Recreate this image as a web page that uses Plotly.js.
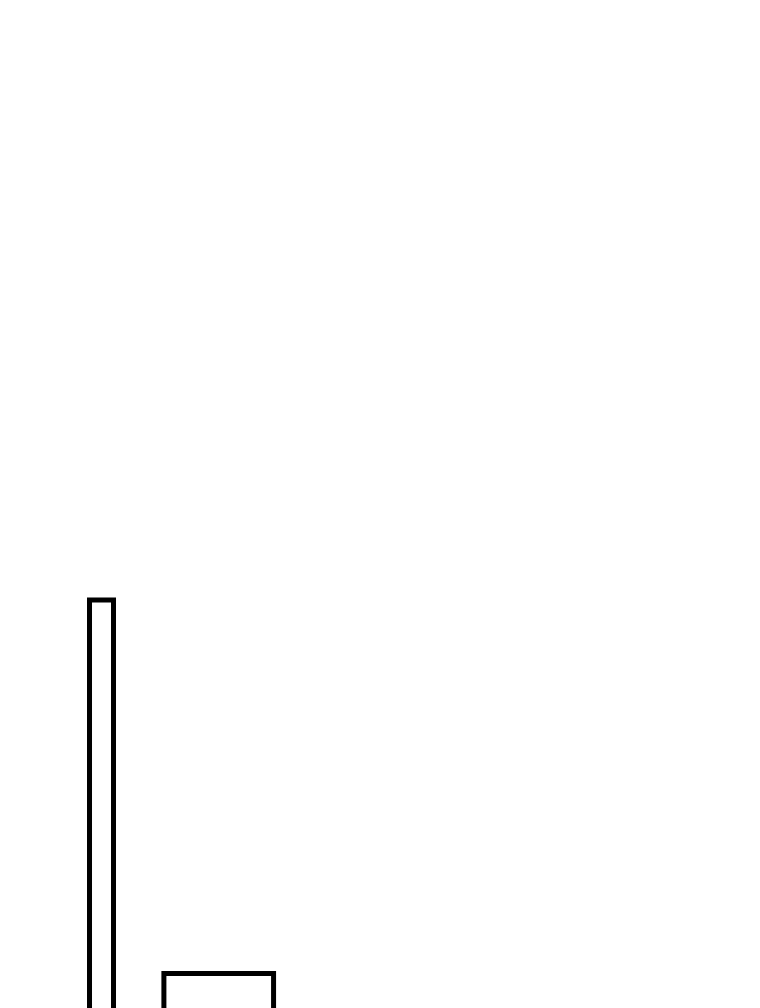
<!DOCTYPE html>
<html>
<head>
<meta charset="utf-8">
<script src="https://cdn.plot.ly/plotly-3.0.1.min.js"></script>
<style>
    html, body {margin: 0; padding: 0; background: #ffffff;}
    #my_graph {width: 760px; height: 1008px;}
</style>
</head>
<body>
<div id="my_graph"></div>
<script>
// histogram bins (lower / upper edge) and counts
const bin_start = [0, 3.1];
const bin_end = [1, 7.67];
const counts = [17, 2];

const bin_center = bin_start.map((s, i) => (s + bin_end[i]) / 2);
const bin_width = bin_start.map((s, i) => bin_end[i] - s);

const trace = {
    type: 'bar',
    x: bin_center,
    y: counts,
    width: bin_width,
    marker: {
        color: '#ffffff',
        line: {color: '#000000', width: 5}
    },
    hoverinfo: 'none'
};

const hidden_axis = {
    visible: false,
    showgrid: false,
    zeroline: false,
    showticklabels: false,
    fixedrange: true
};

const layout = {
    width: 760,
    height: 1008,
    margin: {l: 0, r: 0, t: 0, b: 0, pad: 0},
    paper_bgcolor: '#ffffff',
    plot_bgcolor: '#ffffff',
    showlegend: false,
    xaxis: Object.assign({range: [-3.73, 27.94]}, hidden_axis),
    yaxis: Object.assign({range: [0.615, 41.1]}, hidden_axis)
};

Plotly.newPlot('my_graph', [trace], layout, {displayModeBar: false, staticPlot: true});
</script>
</body>
</html>
